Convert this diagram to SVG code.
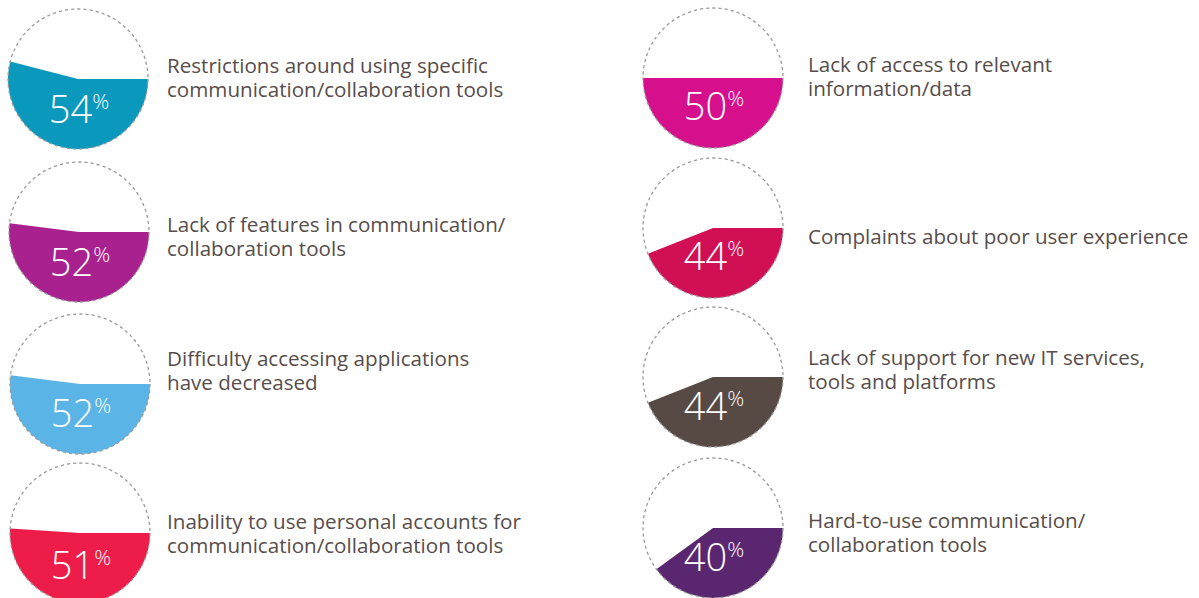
<svg xmlns="http://www.w3.org/2000/svg" width="1199" height="598" viewBox="0 0 1199 598">
<style>
.ring{fill:none;stroke:#9a9a9a;stroke-width:1.3;stroke-dasharray:3.2 3}
.pct{font-family:"Open Sans","Liberation Sans",sans-serif;font-weight:300;font-size:38px;fill:#fff;text-anchor:middle}
.pct tspan{font-size:21px}
.lbl{font-family:"Open Sans","Liberation Sans",sans-serif;font-size:20.6px;fill:#574d4a}
</style>
<rect width="1199" height="598" fill="#fff"/>

<g id="item-restrictions">
<path d="M78,79 L148,79 A70,70 0 1 1 10.2,61.59 Z" fill="#0b98bd"/>
<circle class="ring" cx="78" cy="79" r="70"/>
<text class="pct" x="79" y="123">54<tspan dy="-14">%</tspan></text>
<text class="lbl" x="167" y="73">Restrictions around using specific</text>
<text class="lbl" x="167" y="97">communication/collaboration tools</text>
</g>

<g id="item-features">
<path d="M79,232 L149,232 A70,70 0 1 1 9.55,223.23 Z" fill="#a8218e"/>
<circle class="ring" cx="79" cy="232" r="70"/>
<text class="pct" x="80" y="276">52<tspan dy="-14">%</tspan></text>
<text class="lbl" x="167" y="232">Lack of features in communication/</text>
<text class="lbl" x="167" y="256">collaboration tools</text>
</g>

<g id="item-difficulty">
<path d="M80,384 L150,384 A70,70 0 1 1 10.55,375.23 Z" fill="#5ab4e5"/>
<circle class="ring" cx="80" cy="384" r="70"/>
<text class="pct" x="81" y="427">52<tspan dy="-14">%</tspan></text>
<text class="lbl" x="167" y="366">Difficulty accessing applications</text>
<text class="lbl" x="167" y="390">have decreased</text>
</g>

<g id="item-inability">
<path d="M80,533 L150,533 A70,70 0 1 1 10.14,528.6 Z" fill="#ee1c48"/>
<circle class="ring" cx="80" cy="533" r="70"/>
<text class="pct" x="81" y="579">51<tspan dy="-14">%</tspan></text>
<text class="lbl" x="167" y="529">Inability to use personal accounts for</text>
<text class="lbl" x="167" y="553">communication/collaboration tools</text>
</g>

<g id="item-access">
<path d="M713,78 L783,78 A70,70 0 0 1 643,78 Z" fill="#d60f8c"/>
<circle class="ring" cx="713" cy="78" r="70"/>
<text class="pct" x="714" y="120">50<tspan dy="-14">%</tspan></text>
<text class="lbl" x="808" y="72">Lack of access to relevant</text>
<text class="lbl" x="808" y="96">information/data</text>
</g>

<g id="item-complaints">
<path d="M713,228 L783,228 A70,70 0 0 1 647.92,253.77 Z" fill="#d10f55"/>
<circle class="ring" cx="713" cy="228" r="70"/>
<text class="pct" x="714" y="270">44<tspan dy="-14">%</tspan></text>
<text class="lbl" x="808" y="244">Complaints about poor user experience</text>
</g>

<g id="item-support">
<path d="M713,377 L783,377 A70,70 0 0 1 647.92,402.77 Z" fill="#574a45"/>
<circle class="ring" cx="713" cy="377" r="70"/>
<text class="pct" x="714" y="420">44<tspan dy="-14">%</tspan></text>
<text class="lbl" x="808" y="365">Lack of support for new IT services,</text>
<text class="lbl" x="808" y="389">tools and platforms</text>
</g>

<g id="item-hard">
<path d="M713,528 L783,528 A70,70 0 0 1 656.37,569.15 Z" fill="#5a2670"/>
<circle class="ring" cx="713" cy="528" r="70"/>
<text class="pct" x="714" y="571">40<tspan dy="-14">%</tspan></text>
<text class="lbl" x="808" y="528">Hard-to-use communication/</text>
<text class="lbl" x="808" y="552">collaboration tools</text>
</g>
</svg>
